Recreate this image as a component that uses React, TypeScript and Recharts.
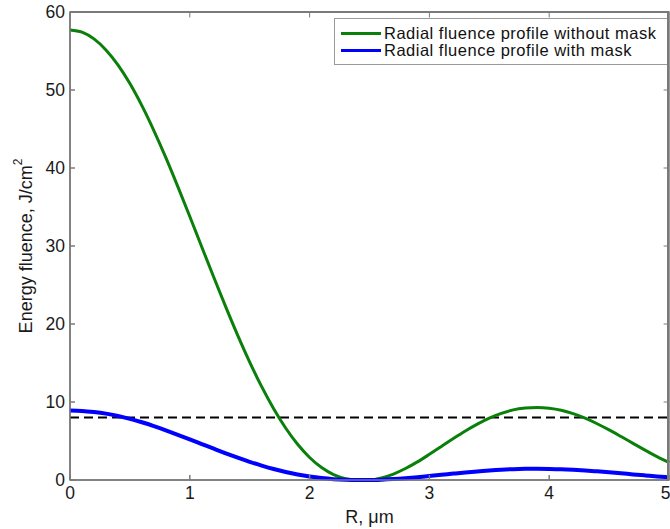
import React from "react";
import { LineChart, Line, XAxis, YAxis, ReferenceLine, ReferenceArea, Legend } from "recharts";

// Radius, µm
const radius = [
  0.0, 0.1, 0.2, 0.3, 0.4, 0.5, 0.6, 0.7, 0.8, 0.9,
  1.0, 1.1, 1.2, 1.3, 1.4, 1.5, 1.6, 1.7, 1.8, 1.9,
  2.0, 2.1, 2.2, 2.3, 2.4, 2.5, 2.6, 2.7, 2.8, 2.9,
  3.0, 3.1, 3.2, 3.3, 3.4, 3.5, 3.6, 3.7, 3.8, 3.9,
  4.0, 4.1, 4.2, 4.3, 4.4, 4.5, 4.6, 4.7, 4.8, 4.9, 5.0,
];

// Radial fluence profile without mask, J/cm²
const fluenceWithoutMask = [
  57.7, 57.41, 56.55, 55.14, 53.22, 50.82, 47.99, 44.8, 41.33, 37.62,
  33.79, 29.88, 25.99, 22.19, 18.54, 15.11, 11.97, 9.14, 6.67, 4.58,
  2.89, 1.6, 0.7, 0.18, 0.0, 0.02, 0.27, 0.76, 1.47, 2.32,
  3.29, 4.3, 5.31, 6.28, 7.16, 7.93, 8.54, 8.99, 9.22, 9.3,
  9.2, 8.94, 8.5, 7.92, 7.21, 6.42, 5.57, 4.7, 3.83, 3.0, 2.24,
];

// Radial fluence profile with mask, J/cm²
const fluenceWithMask = [
  8.9, 8.86, 8.72, 8.51, 8.21, 7.84, 7.4, 6.91, 6.37, 5.8,
  5.21, 4.61, 4.01, 3.42, 2.86, 2.33, 1.85, 1.41, 1.03, 0.71,
  0.45, 0.25, 0.11, 0.03, 0.0, 0.0, 0.04, 0.12, 0.23, 0.36,
  0.51, 0.66, 0.82, 0.97, 1.1, 1.22, 1.32, 1.39, 1.43, 1.44,
  1.42, 1.38, 1.31, 1.22, 1.11, 0.99, 0.86, 0.72, 0.59, 0.46, 0.35,
];

const threshold = 8;
const xTicks = [0, 1, 2, 3, 4, 5];
const yTicks = [0, 10, 20, 30, 40, 50, 60];
const xDomain: [number, number] = [0, 5];
const yDomain: [number, number] = [0, 60];
const seriesNames = [
  "Radial fluence profile without mask",
  "Radial fluence profile with mask",
];

const data = radius.map((r, i) => ({
  r,
  without: fluenceWithoutMask[i],
  with: fluenceWithMask[i],
}));

const GREEN = "#0a800a";
const BLUE = "#0000ff";
const AXIS = "#7a7a7a";
const FONT = "'Liberation Sans', Arial, Helvetica, sans-serif";
// inward tick length for the mirrored (top / right) box edges, in data units
const TOP_TICK = 0.7;
const RIGHT_TICK = 0.045;

const YLabel = (props: any) => {
  const vb = props.viewBox || {};
  const cx = (vb.x || 0) + 26;
  const cy = (vb.y || 0) + (vb.height || 0) / 2;
  return (
    <text
      x={cx}
      y={cy}
      transform={`rotate(-90 ${cx} ${cy})`}
      textAnchor="middle"
      dominantBaseline="central"
      fontFamily={FONT}
      fontSize={18}
      fill="#1a1a1a"
    >
      Energy fluence, J/cm
      <tspan fontSize={12} dy={-8}>
        2
      </tspan>
    </text>
  );
};

const XLabel = (props: any) => {
  const vb = props.viewBox || {};
  const cx = (vb.x || 0) + (vb.width || 0) / 2;
  const y = (vb.y || 0) + 43;
  return (
    <text x={cx} y={y} textAnchor="middle" fontFamily={FONT} fontSize={18} fill="#1a1a1a">
      R, μm
    </text>
  );
};

const LegendBox = () => (
  <div
    style={{
      boxSizing: "border-box",
      width: 335,
      height: 47,
      border: "1px solid #9a9a9a",
      background: "#fff",
      fontFamily: FONT,
      fontSize: 16.5,
      letterSpacing: 0.5,
      color: "#111",
      paddingTop: 6,
    }}
  >
    {seriesNames.map((name, i) => (
      <div key={name} style={{ display: "flex", alignItems: "center", height: 17 }}>
        <div
          style={{
            marginLeft: 6,
            width: 40,
            height: 3,
            background: i === 0 ? GREEN : BLUE,
          }}
        />
        <span style={{ marginLeft: 3, whiteSpace: "nowrap", lineHeight: "17px", height: 17 }}>{name}</span>
      </div>
    ))}
  </div>
);

export default function App() {
  const tickStyle = { fontFamily: FONT, fontSize: 17.5, fill: "#1a1a1a" };
  return (
    <div style={{ position: "absolute", left: 0, top: 0, width: 670, height: 529, background: "#fff" }}>
      <LineChart width={670} height={529} data={data} margin={{ top: 12, right: 1, left: 0, bottom: 0 }}>
        <XAxis
          dataKey="r"
          type="number"
          domain={xDomain}
          ticks={xTicks}
          height={49}
          stroke={AXIS}
          strokeWidth={1.5}
          tickSize={-5}
          tickMargin={12}
          tick={tickStyle}
          label={<XLabel />}
        />
        <YAxis
          type="number"
          domain={yDomain}
          ticks={yTicks}
          width={70}
          stroke={AXIS}
          strokeWidth={1.5}
          tickSize={-5}
          tickMargin={10}
          tick={tickStyle}
          label={<YLabel />}
        />
        <ReferenceArea
          x1={xDomain[0]}
          x2={xDomain[1]}
          y1={yDomain[0]}
          y2={yDomain[1]}
          fill="none"
          fillOpacity={0}
          stroke={AXIS}
          strokeWidth={1.5}
        />
        {xTicks.slice(1, -1).map((t) => (
          <ReferenceLine
            key={`tt${t}`}
            segment={[
              { x: t, y: yDomain[1] },
              { x: t, y: yDomain[1] - TOP_TICK },
            ]}
            stroke={AXIS}
            strokeWidth={1}
          />
        ))}
        {yTicks.slice(1, -1).map((t) => (
          <ReferenceLine
            key={`rt${t}`}
            segment={[
              { x: xDomain[1], y: t },
              { x: xDomain[1] - RIGHT_TICK, y: t },
            ]}
            stroke={AXIS}
            strokeWidth={1}
          />
        ))}
        <ReferenceLine y={threshold} stroke="#000" strokeWidth={2} strokeDasharray="9 5" />
        <Line
          type="monotone"
          dataKey="without"
          name={seriesNames[0]}
          stroke={GREEN}
          strokeWidth={3}
          dot={false}
          isAnimationActive={false}
        />
        <Line
          type="monotone"
          dataKey="with"
          name={seriesNames[1]}
          stroke={BLUE}
          strokeWidth={4}
          dot={false}
          isAnimationActive={false}
        />
        <Legend
          layout="vertical"
          align="center"
          verticalAlign="middle"
          wrapperStyle={{ left: 334, top: 18, width: 335, height: 47 }}
          content={() => <LegendBox />}
        />
      </LineChart>
      <div
        style={{
          position: "absolute",
          left: 70,
          top: 11,
          width: 597,
          height: 468,
          borderTop: `2px solid ${AXIS}`,
          borderRight: `2px solid ${AXIS}`,
          pointerEvents: "none",
          zIndex: 5,
        }}
      />
    </div>
  );
}
